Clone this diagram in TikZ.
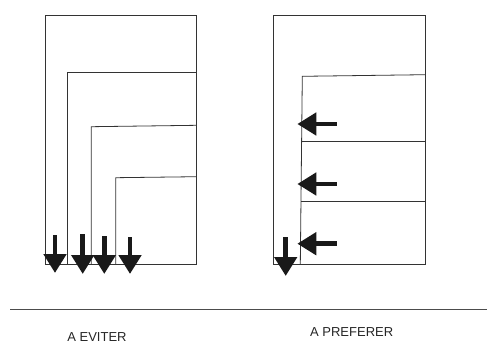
\documentclass[tikz,border=0pt]{standalone}
\usepackage{fontspec}
\setmainfont{Liberation Sans}
\usetikzlibrary{arrows.meta}

\begin{document}
\begin{tikzpicture}[x=1pt,y=-1pt,
    wall/.style={draw=black!80,line width=0.8pt},
    flow/.style={line width=4.8pt,draw=black!90,-{Triangle[width=22pt,length=19pt]}},
    caption/.style={font=\fontsize{13}{15}\selectfont,text=black!85,inner sep=0pt}]
  \useasboundingbox (0,0) rectangle (487,343);
  % a eviter
  \begin{scope}
    \coordinate (La) at (45.3,15.3);
    \coordinate (Lb) at (196.7,264.3);
    \draw[wall] (La) rectangle (Lb);
    \draw[wall] (67.7,264.3) -- (67.7,72) -- (196.7,72);
    \draw[wall] (91.3,264.3) -- (91.3,126.7) -- (196.7,125.3);
    \draw[wall] (115.7,264.3) -- (115.7,177.7) -- (196.7,176.7);
    \draw[flow] (55,235) -- (55,273);
    \draw[flow] (82.7,234.3) -- (82.7,274);
    \draw[flow] (104.3,236) -- (104.3,274);
    \draw[flow] (130,237.3) -- (130,274);
  \end{scope}
  % a preferer
  \begin{scope}
    \coordinate (Ra) at (273.7,15.3);
    \coordinate (Rb) at (425,264.3);
    \draw[wall] (Ra) rectangle (Rb);
    \coordinate (Rbot) at (300.3,264.3);
    \coordinate (Rtop) at (302.3,76.3);
    \draw[wall] (Rbot) -- (Rtop) -- (425,74.7);
    \draw[wall] (301.6,141.3) -- (425,141.3);
    \draw[wall] (301,201.3) -- (425,201.3);
    \draw[flow] (336.7,124) -- (297.3,124);
    \draw[flow] (336.7,184) -- (297.3,184);
    \draw[flow] (336.7,243.7) -- (297.3,243.7);
    \draw[flow] (285.7,237) -- (285.7,276);
  \end{scope}
  \coordinate (sepL) at (10,309);
  \coordinate (sepR) at (487,309);
  \draw[black!70,line width=0.9pt] (sepL) -- (sepR);
  \node[caption] (eviter) at (97,337) {A EVITER};
  \node[caption] (preferer) at (351.7,332) {A PREFERER};
\end{tikzpicture}
\end{document}
